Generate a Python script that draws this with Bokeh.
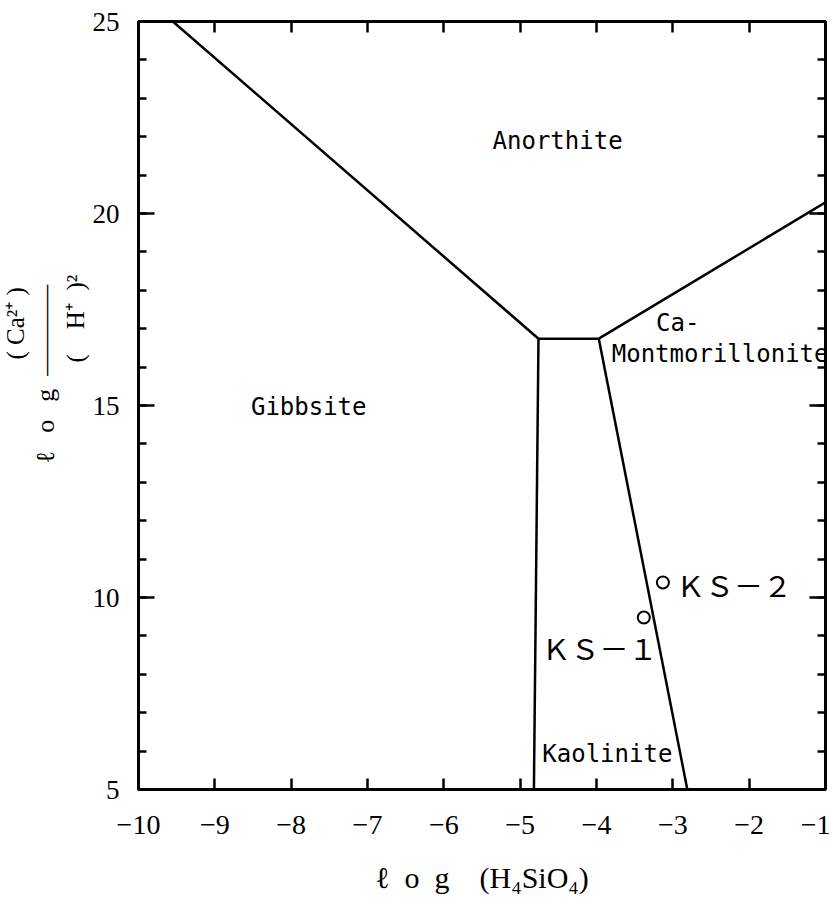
from bokeh.plotting import figure
from bokeh.models import LinearAxis, FixedTicker, Range1d, ColumnDataSource, Title, CustomJSTickFormatter
from bokeh.core.properties import value
from bokeh.embed import file_html
from bokeh.resources import INLINE

# ---- data ----
x_ticks = [-10, -9, -8, -7, -6, -5, -4, -3, -2, -1]
x_tick_labels = ["\u221210", "\u22129", "\u22128", "\u22127", "\u22126",
                 "\u22125", "\u22124", "\u22123", "\u22122", "\u22121"]
y_ticks = [5, 10, 15, 20, 25]
y_minor_ticks = list(range(5, 26))

# stability-field boundaries (log H4SiO4, log Ca/H^2)
boundary_xs = [[-9.55, -4.76], [-4.76, -3.97], [-4.76, -4.82], [-3.97, -2.81], [-3.97, -1.0]]
boundary_ys = [[25.0, 16.74], [16.74, 16.74], [16.74, 5.0], [16.74, 5.0], [16.74, 20.29]]

field_names = ["Anorthite", "Gibbsite", "Ca-", "Montmorillonite", "Kaolinite"]
field_x = [-4.51, -7.77, -3.22, -3.80, -4.71]
field_y = [21.90, 14.95, 17.14, 16.35, 5.92]
field_align = ["center", "center", "left", "left", "left"]

sample_names = ["\uff2b\uff33\uff0d\uff11", "\uff2b\uff33\uff0d\uff12"]
sample_x = [-3.38, -3.13]
sample_y = [9.48, 10.39]
sample_label_x = [-4.72, -2.96]
sample_label_y = [8.70, 10.36]

x_title = "\u2113\u2002o\u2002g\u2003(H\u2084SiO\u2084)"
y_title_log = "\u2113\u2002\u2009o\u2002\u2009g\u2002\u2014\u2014\u2014\u2013"
y_title_num = "( Ca\u00b2\u207a )"
y_title_den = "(\u2003H\u207a\u2002)\u00b2"

# ---- figure ----
p = figure(width=830, height=906, x_range=Range1d(-10, -1), y_range=Range1d(5, 25),
           output_backend="svg", toolbar_location=None,
           min_border_left=131, min_border_right=5, min_border_top=21, min_border_bottom=117)
p.grid.visible = False
p.background_fill_color = "white"
p.border_fill_color = "white"
p.outline_line_color = "black"
p.outline_line_width = 3

serif = "Liberation Serif"
blank = CustomJSTickFormatter(code="return ''")

def style_x(ax, labels=True):
    ax.ticker = FixedTicker(ticks=x_ticks)
    ax.axis_line_width = 3
    ax.major_tick_in = 11
    ax.major_tick_out = 0
    ax.major_tick_line_width = 2.5
    ax.minor_tick_line_color = None
    if labels:
        ax.major_label_overrides = {t: l for t, l in zip(x_ticks, x_tick_labels)}
        ax.major_label_text_font = serif
        ax.major_label_text_color = "black"
        ax.major_label_text_font_size = "28px"
        ax.major_label_standoff = 26
    else:
        ax.formatter = blank
        ax.major_label_text_color = None
        ax.major_label_standoff = 0

def style_y(ax, labels=True):
    ax.ticker = FixedTicker(ticks=y_ticks, minor_ticks=y_minor_ticks)
    ax.axis_line_width = 3
    ax.major_tick_in = 16
    ax.major_tick_out = 0
    ax.minor_tick_in = 8
    ax.minor_tick_out = 0
    ax.major_tick_line_width = 2.5
    ax.minor_tick_line_width = 2.5
    if labels:
        ax.major_label_text_font = serif
        ax.major_label_text_color = "black"
        ax.major_label_text_font_size = "27px"
        ax.major_label_standoff = 19
    else:
        ax.formatter = blank
        ax.major_label_text_color = None
        ax.major_label_standoff = 0

style_x(p.xaxis[0])
style_y(p.yaxis[0])
p.xaxis[0].axis_label = x_title
p.xaxis[0].axis_label_text_font = serif
p.xaxis[0].axis_label_text_font_style = "normal"
p.xaxis[0].axis_label_text_font_size = "30px"
p.xaxis[0].axis_label_text_color = "black"
p.xaxis[0].axis_label_standoff = 24

top_ax = LinearAxis()
style_x(top_ax, labels=False)
p.add_layout(top_ax, "above")
right_ax = LinearAxis()
style_y(right_ax, labels=False)
p.add_layout(right_ax, "right")

# y-axis title: log (Ca2+)/(H+)^2, built from three vertical titles
def ytitle(text, offset, size):
    return Title(text=text, align="left", vertical_align="middle", offset=offset, standoff=0,
                 text_font=serif, text_font_style="normal", text_font_size=size,
                 text_color="black")

p.add_layout(ytitle(y_title_den, 427, "25px"), "left")
p.add_layout(ytitle(y_title_log, 326, "26px"), "left")
p.add_layout(ytitle(y_title_num, 430, "25px"), "left")

# boundaries
p.multi_line(xs=boundary_xs, ys=boundary_ys, line_color="black", line_width=2.5)

# field labels
src = ColumnDataSource(dict(x=field_x, y=field_y, t=field_names, a=field_align))
p.text(x="x", y="y", text="t", text_align="a", text_baseline="middle",
       text_font=value("DejaVu Sans Mono"), text_font_size="24px", text_color="black", source=src)

# samples
p.scatter(sample_x, sample_y, marker="circle", size=12, fill_color="white",
          line_color="black", line_width=2)
p.text(x=sample_label_x, y=sample_label_y, text=sample_names, text_align="left",
       text_baseline="middle", text_font=value("Noto Sans CJK JP"), text_font_size="29px",
       text_color="black")

open("out.html", "w").write(file_html(p, INLINE))
